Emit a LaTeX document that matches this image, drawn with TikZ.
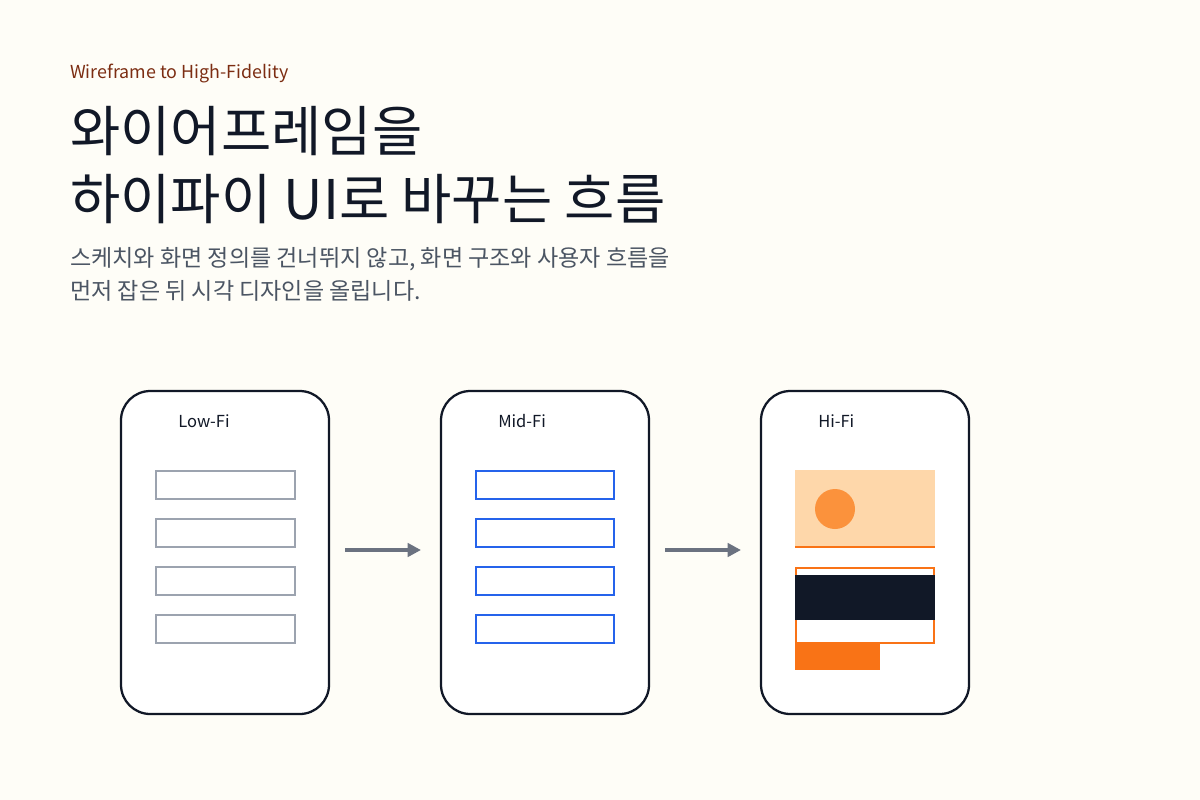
\documentclass[tikz,border=0pt]{standalone}
\usepackage{fontspec}
\setmainfont{Noto Sans CJK KR}
\usetikzlibrary{arrows.meta}
\definecolor{bg}{HTML}{FEFDF7}
\definecolor{ink}{HTML}{111827}
\definecolor{sub}{HTML}{4B5563}
\definecolor{kick}{HTML}{7C2D12}
\definecolor{gbar}{HTML}{9CA3AF}
\definecolor{bbar}{HTML}{2563EB}
\definecolor{peach}{HTML}{FED7AA}
\definecolor{orng}{HTML}{F97316}
\definecolor{circ}{HTML}{FB923C}
\definecolor{arr}{HTML}{6B7280}
\begin{document}
\begin{tikzpicture}[x=0.75pt,y=-0.75pt,
  card/.style={draw=ink,line width=1.7pt,rounded corners=22pt,fill=white},
  lbl/.style={anchor=west,font=\fontsize{12.4}{14}\selectfont,text=ink,inner sep=0},
  gb/.style={draw=gbar,line width=2pt},
  bb/.style={draw=bbar,line width=2pt},
  flow/.style={draw=arr,line width=2.6pt,-{Triangle[length=10pt,width=10pt]}}]
\fill[bg] (0,0) rectangle (1200,800);
\node[anchor=base west,inner sep=0,text=kick,font=\fontsize{13.4}{16}\selectfont] (kicker) at (70,78) {Wireframe to High-Fidelity};
\node[anchor=base west,inner sep=0,text=ink,font=\fontsize{41}{44}\selectfont] (t1) at (70,151) {와이어프레임을};
\node[anchor=base west,inner sep=0,text=ink,font=\fontsize{41}{44}\selectfont] (t2) at (70,219) {하이파이 UI로 바꾸는 흐름};
\node[anchor=base west,inner sep=0,text=sub,font=\fontsize{17.3}{20}\selectfont] (s1) at (70,266) {스케치와 화면 정의를 건너뛰지 않고, 화면 구조와 사용자 흐름을};
\node[anchor=base west,inner sep=0,text=sub,font=\fontsize{17.3}{20}\selectfont] (s2) at (70,299) {먼저 잡은 뒤 시각 디자인을 올립니다.};
% cards
\draw[card] (121,391) rectangle (329,714);
\draw[card] (441,391) rectangle (649,714);
\draw[card] (761,391) rectangle (969,714);
\node[lbl] (l1) at (178,421) {Low-Fi};
\node[lbl] (l2) at (498,421) {Mid-Fi};
\node[lbl] (l3) at (818,421) {Hi-Fi};
\foreach \y in {471,519,567,615}{
  \draw[gb] (156,\y) rectangle (295,\y+28);
  \draw[bb] (476,\y) rectangle (614,\y+28);
}
% hi-fi
\fill[peach] (795,470) rectangle (935,547);
\draw[orng,line width=2pt] (795,547) -- (935,547);
\fill[circ] (835,509) circle (20);
\draw[orng,line width=2pt] (796,568) rectangle (934,643);
\fill[ink] (795,575) rectangle (935,620);
\fill[orng] (795,643) rectangle (880,670);
% arrows
\coordinate (a1s) at (345,550); \coordinate (a1e) at (421,550);
\coordinate (a2s) at (665,550); \coordinate (a2e) at (741,550);
\draw[flow] (a1s) -- (a1e);
\draw[flow] (a2s) -- (a2e);
\end{tikzpicture}
\end{document}
